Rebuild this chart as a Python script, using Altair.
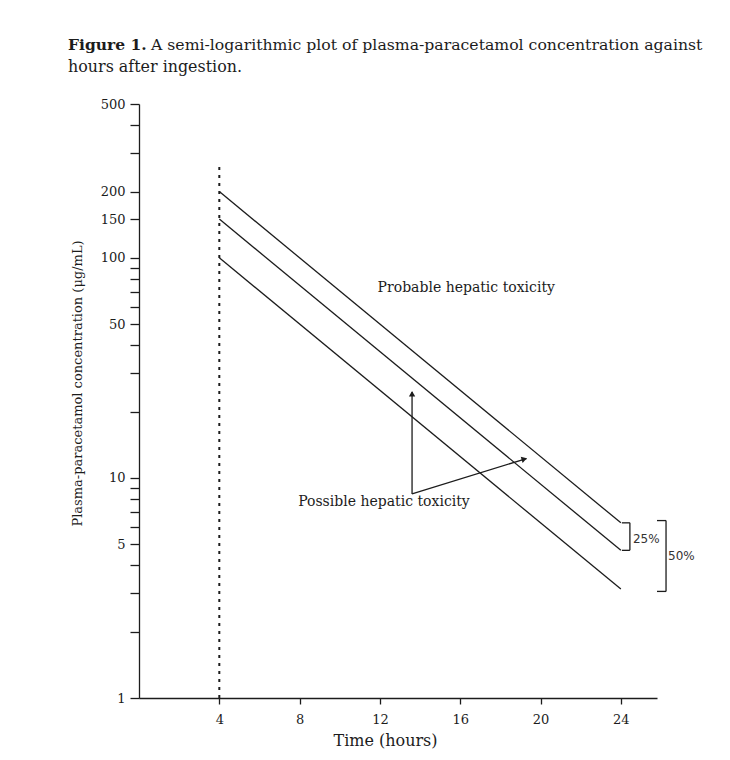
import altair as alt
import pandas as pd

# ---- data ----
hours = [4, 24]
upper_line = [200, 6.25]      # 200 ug/mL at 4 h
middle_line = [150, 4.6875]   # 150 ug/mL at 4 h
lower_line = [100, 3.125]     # 100 ug/mL at 4 h

y_ticks = [1, 2, 3, 4, 5, 6, 7, 8, 9, 10, 20, 30, 40, 50, 60, 70, 80, 90,
           100, 150, 200, 300, 400, 500]
y_labels = [1, 5, 10, 50, 100, 150, 200, 500]
x_ticks = [4, 8, 12, 16, 20, 24]

dotted_x = [4, 4]
dotted_c = [1, 270]

# annotation anchors (data coordinates)
arrow_t = [13.6, 13.6]
arrow_c = [8.46, 8.46]
arrow_t2 = [13.6, 19.3]
arrow_c2 = [24.6, 12.25]
head_t = [13.6, 19.19]
head_c = [24.1, 12.18]
head_angle = [0, 73]

bracket_t = [24.45, 24.05, 24.05, 26.25, 25.8, 25.8]
bracket_t2 = [24.45, 24.45, 24.45, 26.25, 26.25, 26.25]
bracket_c = [6.25, 6.25, 4.6875, 6.4, 6.4, 3.05]
bracket_c2 = [4.6875, 6.25, 4.6875, 3.05, 6.4, 3.05]

pct_labels = ["25%", "50%"]
pct_t = [24.6, 26.35]
pct_c = [5.3, 4.4]

region_labels = ["Probable hepatic toxicity", "Possible hepatic toxicity"]
region_t = [16.3, 12.2]
region_c = [73, 7.8]

# ---- tables ----
rows = []
for name, vals in [("upper", upper_line), ("middle", middle_line), ("lower", lower_line)]:
    for h, v in zip(hours, vals):
        rows.append({"t": h, "c": v, "s": name})
lines_df = pd.DataFrame(rows)
dotted_df = pd.DataFrame({"t": dotted_x, "c": dotted_c})
arrow_df = pd.DataFrame({"t": arrow_t, "c": arrow_c, "t2": arrow_t2, "c2": arrow_c2})
head_df = pd.DataFrame({"t": head_t, "c": head_c, "a": head_angle})
bracket_df = pd.DataFrame({"t": bracket_t, "c": bracket_c, "t2": bracket_t2, "c2": bracket_c2})
pct_df = pd.DataFrame({"t": pct_t, "c": pct_c, "s": pct_labels})
region_df = pd.DataFrame({"t": region_t, "c": region_c, "s": region_labels})

SERIF = "DejaVu Serif"
INK = "#1c1c1c"

W, H = 518, 594

xs = alt.Scale(domain=[0, 25.8], nice=False, zero=False)
ys = alt.Scale(type="log", domain=[1, 500], nice=False)

label_expr = "indexof(%s, datum.value) >= 0 ? datum.label : ''" % str(y_labels)

X = alt.X("t:Q", scale=xs, axis=alt.Axis(
    values=x_ticks, title="Time (hours)", grid=False, domainColor=INK, tickColor=INK,
    tickSize=6, labelPadding=9, labelFont=SERIF, labelFontSize=13, labelColor=INK,
    titleFont=SERIF, titleFontSize=16, titleFontWeight="normal", titleColor=INK,
    titleX=246, titleY=42, titleBaseline="middle", domainWidth=1.3, tickWidth=1.3))
Y = alt.Y("c:Q", scale=ys, axis=alt.Axis(
    values=y_ticks, labelExpr=label_expr, title="Plasma-paracetamol concentration (\u03bcg/mL)",
    grid=False, domainColor=INK, tickColor=INK, tickSize=9, labelPadding=5,
    labelFont=SERIF, labelFontSize=13, labelColor=INK,
    titleFont=SERIF, titleFontSize=13, titleFontWeight="normal", titleColor=INK,
    titleX=-62, titleY=279, titleAngle=270, titleAlign="center", titleBaseline="middle",
    domainWidth=1.3, tickWidth=1.3))

lines = alt.Chart(lines_df).mark_line(color=INK, strokeWidth=1.3).encode(
    x=X, y=Y, detail="s:N")

dotted = alt.Chart(dotted_df).mark_line(color=INK, strokeWidth=2, strokeDash=[3, 5]).encode(x=X, y=Y)

arrows = alt.Chart(arrow_df).mark_rule(color=INK, strokeWidth=1.3).encode(
    x=X, y=Y, x2="t2:Q", y2="c2:Q")

heads = alt.Chart(head_df).mark_point(shape="triangle-up", filled=True, size=40,
                                      color=INK, opacity=1).encode(
    x=X, y=Y, angle=alt.Angle("a:Q", scale=None))

brackets = alt.Chart(bracket_df).mark_rule(color=INK, strokeWidth=1.3).encode(
    x=X, y=Y, x2="t2:Q", y2="c2:Q")

pct = alt.Chart(pct_df).mark_text(font="DejaVu Sans", fontSize=12, color="#333",
                                  align="left", baseline="middle").encode(
    x=X, y=Y, text="s:N")

regions = alt.Chart(region_df).mark_text(font=SERIF, fontSize=14, color=INK,
                                         align="center", baseline="middle").encode(
    x=X, y=Y, text="s:N")

title_bold = alt.Chart(pd.DataFrame({"s": ["Figure 1."]})).mark_text(
    font=SERIF, fontSize=15.5, fontWeight="bold", color=INK, align="left", baseline="middle"
).encode(text="s:N", x=alt.value(-71), y=alt.value(-59))

title_rest = alt.Chart(pd.DataFrame({"s": [
    "A semi-logarithmic plot of plasma-paracetamol concentration against"]})).mark_text(
    font=SERIF, fontSize=15.7, color=INK, align="left", baseline="middle"
).encode(text="s:N", x=alt.value(12), y=alt.value(-59))

title_line2 = alt.Chart(pd.DataFrame({"s": ["hours after ingestion."]})).mark_text(
    font=SERIF, fontSize=15.9, color=INK, align="left", baseline="middle"
).encode(text="s:N", x=alt.value(-71), y=alt.value(-37))

chart = alt.layer(lines, dotted, arrows, heads, brackets, pct, regions,
                  title_bold, title_rest, title_line2).properties(
    width=W, height=H,
    autosize=alt.AutoSizeParams(type="none"),
    padding={"left": 131, "top": 96, "right": 62, "bottom": 53},
    background="white",
).configure_view(stroke=None)

chart.save("out.html", embed_options={"renderer": "svg", "actions": False})
